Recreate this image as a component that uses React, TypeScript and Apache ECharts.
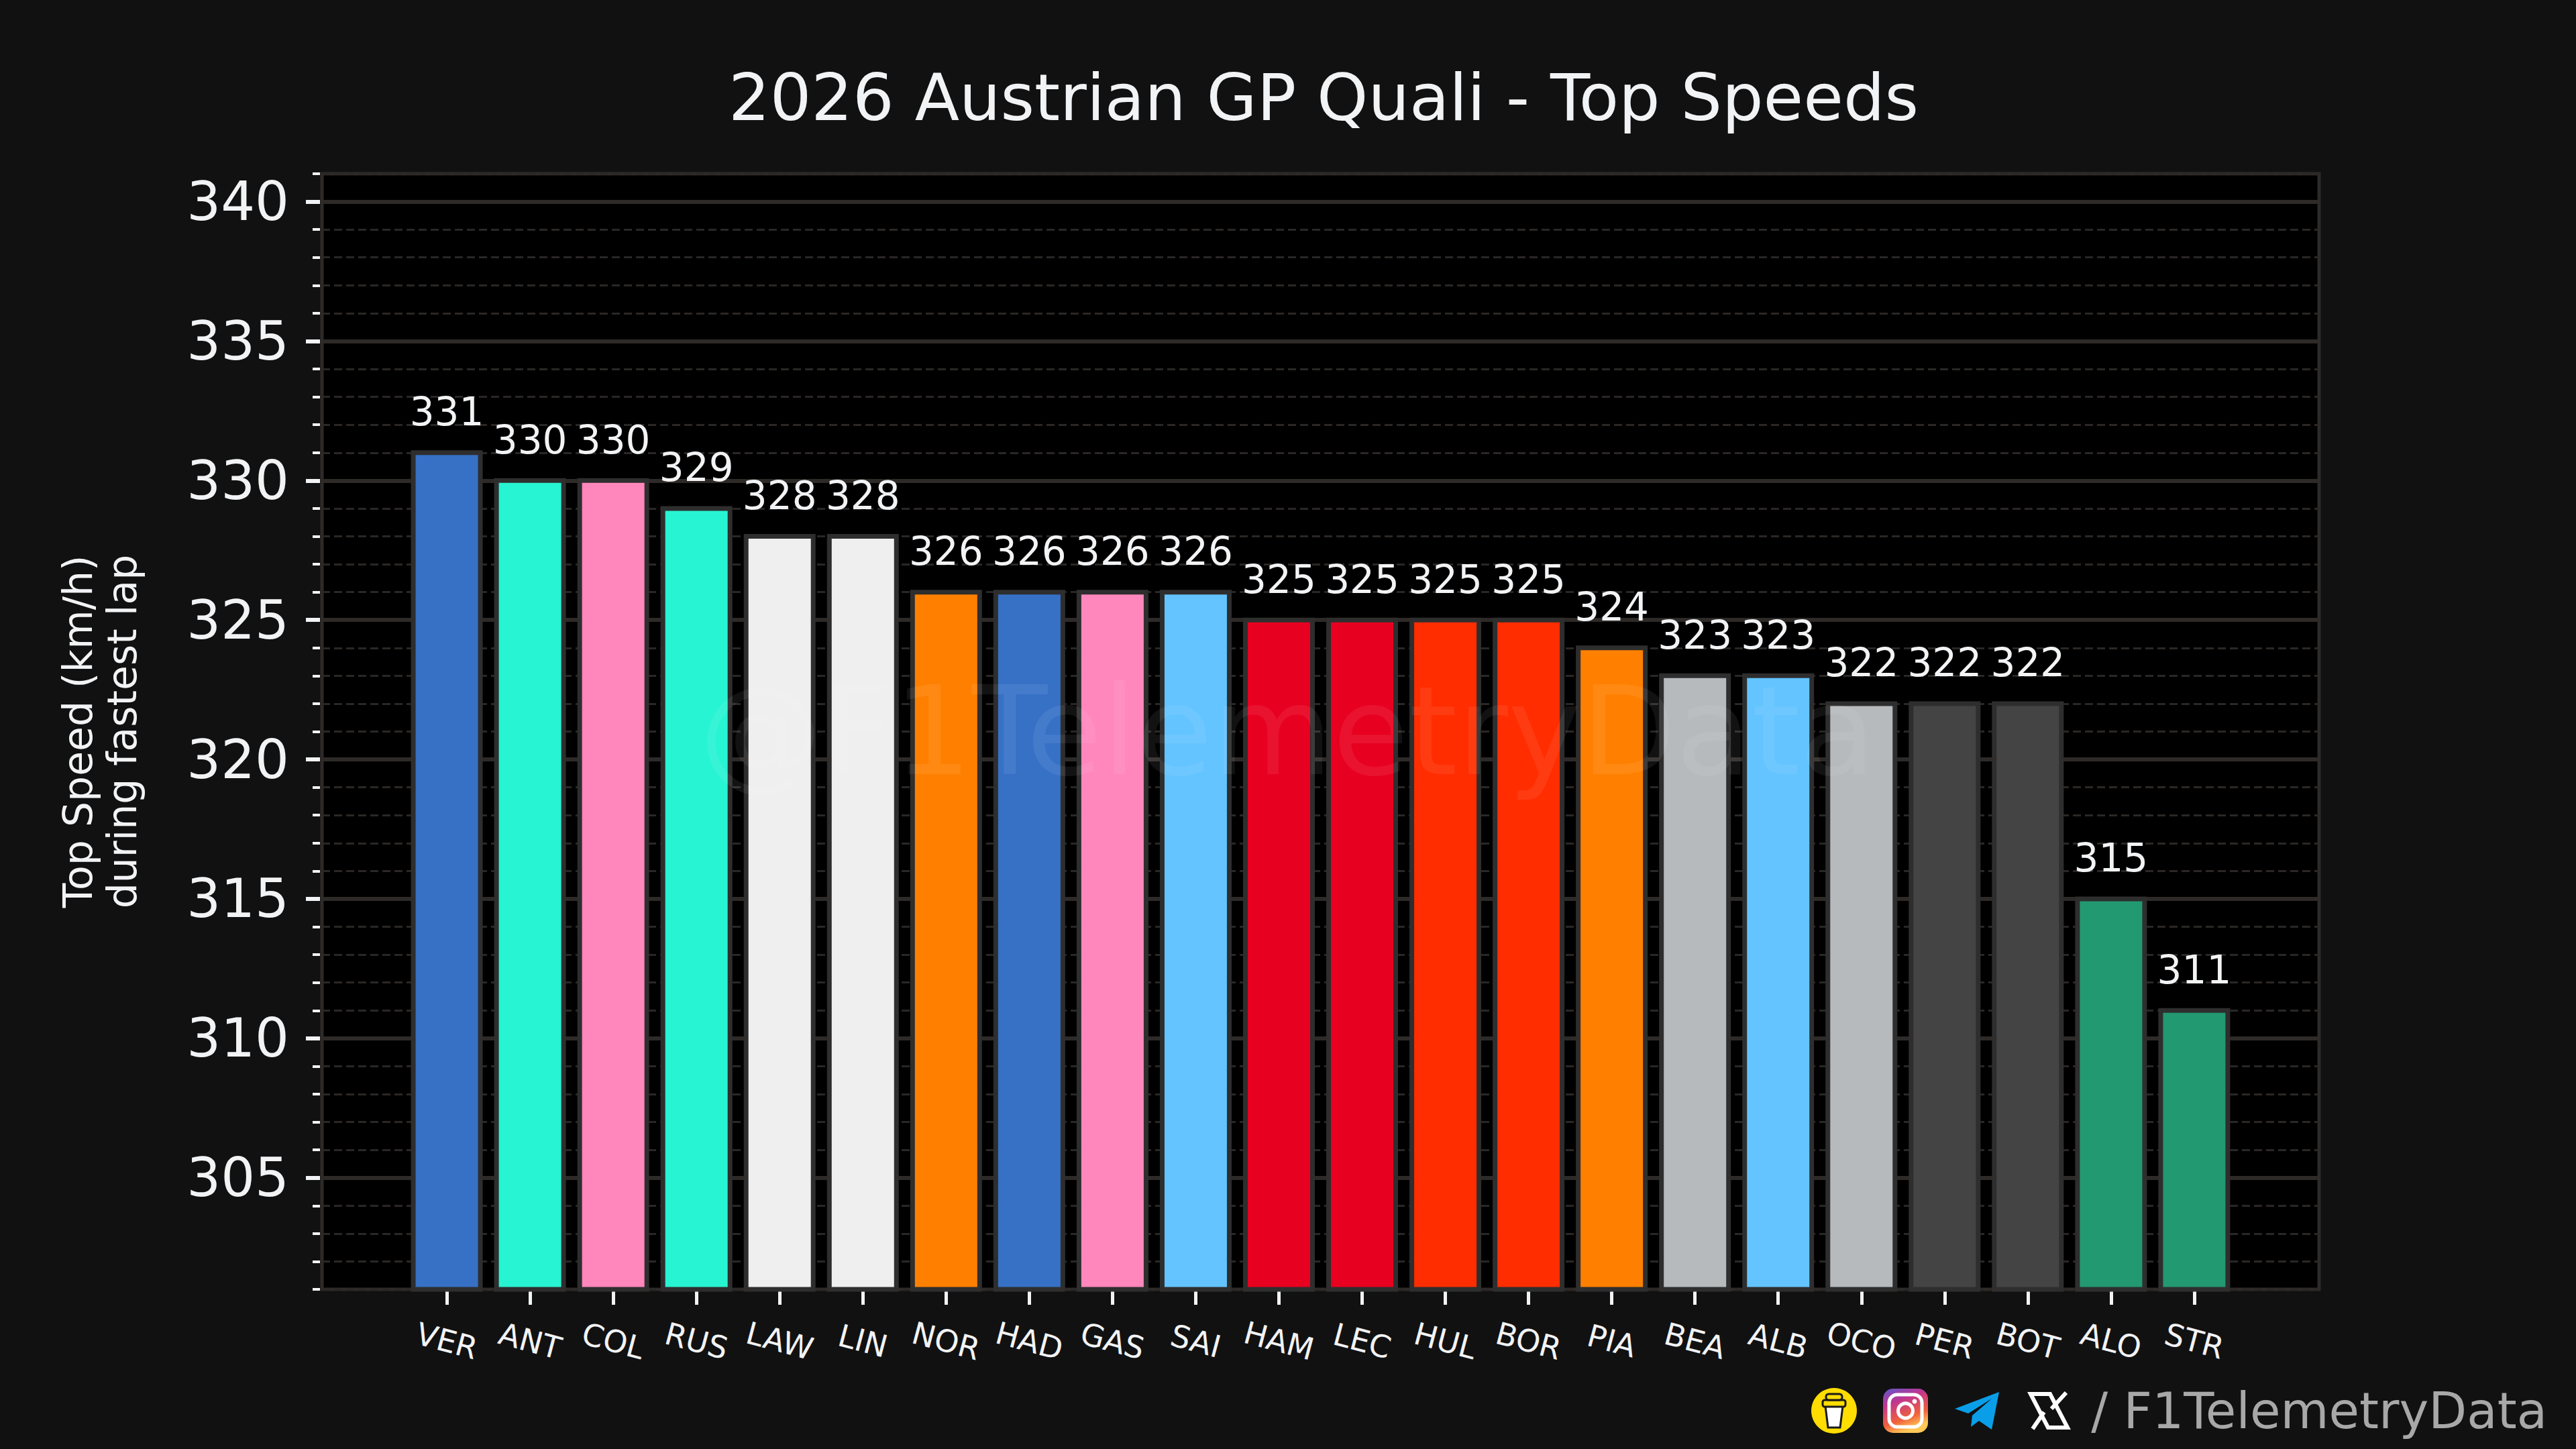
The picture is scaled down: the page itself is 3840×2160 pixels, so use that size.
import React, { useEffect, useRef } from "react";
import * as echarts from "echarts";

const titleText = "2026 Austrian GP Quali - Top Speeds";
const yAxisTitle = "Top Speed (km/h)\nduring fastest lap";
const drivers = ["VER","ANT","COL","RUS","LAW","LIN","NOR","HAD","GAS","SAI","HAM","LEC","HUL","BOR","PIA","BEA","ALB","OCO","PER","BOT","ALO","STR"];
const speeds = [331,330,330,329,328,328,326,326,326,326,325,325,325,325,324,323,323,322,322,322,315,311];
const barColors = ["#3671C6","#27F4D2","#FF87BC","#27F4D2","#EFEFEF","#EFEFEF","#FF8000","#3671C6","#FF87BC","#64C4FF","#E80020","#E80020","#FF2D00","#FF2D00","#FF8000","#B6BABD","#64C4FF","#B6BABD","#444444","#444444","#229971","#229971"];
const majorTicks = [305,310,315,320,325,330,335,340];
const minorTicks = [301,302,303,304,306,307,308,309,311,312,313,314,316,317,318,319,321,322,323,324,326,327,328,329,331,332,333,334,336,337,338,339,341];
const yMin = 301;
const yMax = 341;
const watermark = "@F1TelemetryData";
const footerText = "/ F1TelemetryData";

const FONT = "DejaVu Sans";
const SPINE = "#2E2A28";
const TICK = "#F2F3F5";
const BAR_WIDTH = 100;

export default function App() {
  const ref = useRef<HTMLDivElement>(null);
  useEffect(() => {
    const chart = echarts.init(ref.current!, undefined, { renderer: "svg", width: 3840, height: 2160 });
    const cats = ["", ...drivers, ""];
    chart.setOption({
      animation: false,
      backgroundColor: "#111111",
      title: {
        text: titleText,
        left: 1968,
        textAlign: "center",
        top: 92,
        textStyle: { color: "#F2F3F5", fontFamily: FONT, fontSize: 97, fontWeight: "normal" },
      },
      grid: {
        left: 480, top: 259, width: 2977, height: 1663,
        show: true, backgroundColor: "#000000", borderColor: SPINE, borderWidth: 5,
      },
      xAxis: {
        type: "category",
        data: cats,
        offset: 3,
        axisLine: { show: false },
        axisTick: {
          show: true, alignWithLabel: true, length: 20,
          interval: (_i: number, v: string) => v !== "",
          lineStyle: { color: TICK, width: 5 },
        },
        axisLabel: {
          interval: 0, rotate: -15, align: "center", verticalAlign: "middle", margin: 74,
          color: TICK, fontFamily: FONT, fontSize: 46,
        },
        splitLine: { show: false },
      },
      yAxis: [
        {
          type: "value", position: "left", min: yMin, max: yMax, offset: 3,
          name: yAxisTitle, nameLocation: "middle", nameGap: 262, nameRotate: 90,
          nameTextStyle: { color: TICK, fontFamily: FONT, fontSize: 60, lineHeight: 66 },
          axisLine: { show: false },
          axisTick: { show: true, length: 21, customValues: majorTicks, lineStyle: { color: TICK, width: 6 } },
          axisLabel: { customValues: majorTicks, margin: 46, color: TICK, fontFamily: FONT, fontSize: 80, padding: [8, 0, 0, 0], formatter: (v: number) => String(v) },
          splitLine: { show: true, lineStyle: { color: SPINE, width: 6 } },
        },
        {
          type: "value", position: "left", min: yMin, max: yMax, offset: 3,
          axisLine: { show: false },
          axisTick: { show: true, length: 11, customValues: minorTicks, lineStyle: { color: TICK, width: 4 } },
          axisLabel: { show: false },
          splitLine: { show: true, lineStyle: { color: "#2A2725", width: 3, type: [12, 6] } },
        },
      ],
      series: [
        {
          type: "custom",
          yAxisIndex: 0,
          encode: { x: 0, y: 1 },
          data: speeds.map((v, i) => [i + 1, v]),
          clip: false,
          renderItem: (params: any, api: any) => {
            const top = api.coord([api.value(0), api.value(1)]);
            const base = api.coord([api.value(0), yMin]);
            return {
              type: "rect",
              shape: { x: top[0] - BAR_WIDTH / 2, y: top[1], width: BAR_WIDTH, height: base[1] - top[1] },
              style: { fill: barColors[params.dataIndex], stroke: "#2E2E2E", lineWidth: 7 },
              textContent: {
                style: { text: String(api.value(1)), fill: TICK, fontFamily: FONT, fontSize: 58 },
              },
              textConfig: { position: "top", distance: 28 },
            };
          },
        },
      ],
      graphic: [
        { type: "text", z: 100, x: 1919, y: 1090, style: { text: watermark, fill: "rgba(255,255,255,0.07)", font: `184px "${FONT}"`, textAlign: "center", textVerticalAlign: "middle" } },
        { type: "text", z: 100, x: 3797, y: 2103, style: { text: footerText, fill: "#A8A8A8", font: `74px "${FONT}"`, textAlign: "right", textVerticalAlign: "middle" } },
        // buy-me-a-coffee icon
        { type: "circle", z: 100, shape: { cx: 2734, cy: 2103, r: 34 }, style: { fill: "#FFDD00" } },
        { type: "polygon", z: 101, shape: { points: [[2721,2096],[2747,2096],[2743,2128],[2725,2128]] }, style: { fill: "#FFFFFF", stroke: "#1A1A1A", lineWidth: 3 } },
        { type: "rect", z: 102, shape: { x: 2717, y: 2087, width: 34, height: 10, r: 3 }, style: { fill: "#FFDD00", stroke: "#1A1A1A", lineWidth: 3 } },
        { type: "rect", z: 102, shape: { x: 2722, y: 2078, width: 24, height: 9, r: 4 }, style: { fill: "#FFDD00", stroke: "#1A1A1A", lineWidth: 3 } },
        // instagram icon
        { type: "rect", z: 100, shape: { x: 2807, y: 2070, width: 67, height: 66, r: 15 }, style: { fill: { type: "linear", x: 0, y: 0, x2: 0.4, y2: 1, colorStops: [{ offset: 0, color: "#5B57D0" }, { offset: 0.35, color: "#C1358F" }, { offset: 0.75, color: "#F1603C" }, { offset: 1, color: "#FFC857" }] } } },
        { type: "rect", z: 101, shape: { x: 2816, y: 2079, width: 49, height: 48, r: 12 }, style: { fill: "none", stroke: "#FFFFFF", lineWidth: 5 } },
        { type: "circle", z: 101, shape: { cx: 2840.5, cy: 2103, r: 11 }, style: { fill: "none", stroke: "#FFFFFF", lineWidth: 5 } },
        { type: "circle", z: 101, shape: { cx: 2854, cy: 2089, r: 3.5 }, style: { fill: "#FFFFFF" } },
        // telegram icon
        { type: "polygon", z: 100, shape: { points: [[2980,2075],[2914,2100],[2934,2107],[2969,2085],[2940,2110],[2938,2127],[2950,2118],[2969,2131]] }, style: { fill: "#0A9EE8" } },
        // X icon
        { type: "polygon", z: 100, shape: { points: [[3027,2078],[3056,2078],[3082,2128],[3053,2128]] }, style: { fill: "none", stroke: "#FFFFFF", lineWidth: 6 } },
        { type: "line", z: 100, shape: { x1: 3080, y1: 2076, x2: 3058, y2: 2100 }, style: { stroke: "#FFFFFF", lineWidth: 6 } },
        { type: "line", z: 100, shape: { x1: 3047, y1: 2105, x2: 3030, y2: 2130 }, style: { stroke: "#FFFFFF", lineWidth: 6 } },
      ],
    });
    return () => chart.dispose();
  }, []);
  return <div ref={ref} style={{ position: "fixed", left: 0, top: 0, width: 3840, height: 2160, background: "#111111" }} />;
}
